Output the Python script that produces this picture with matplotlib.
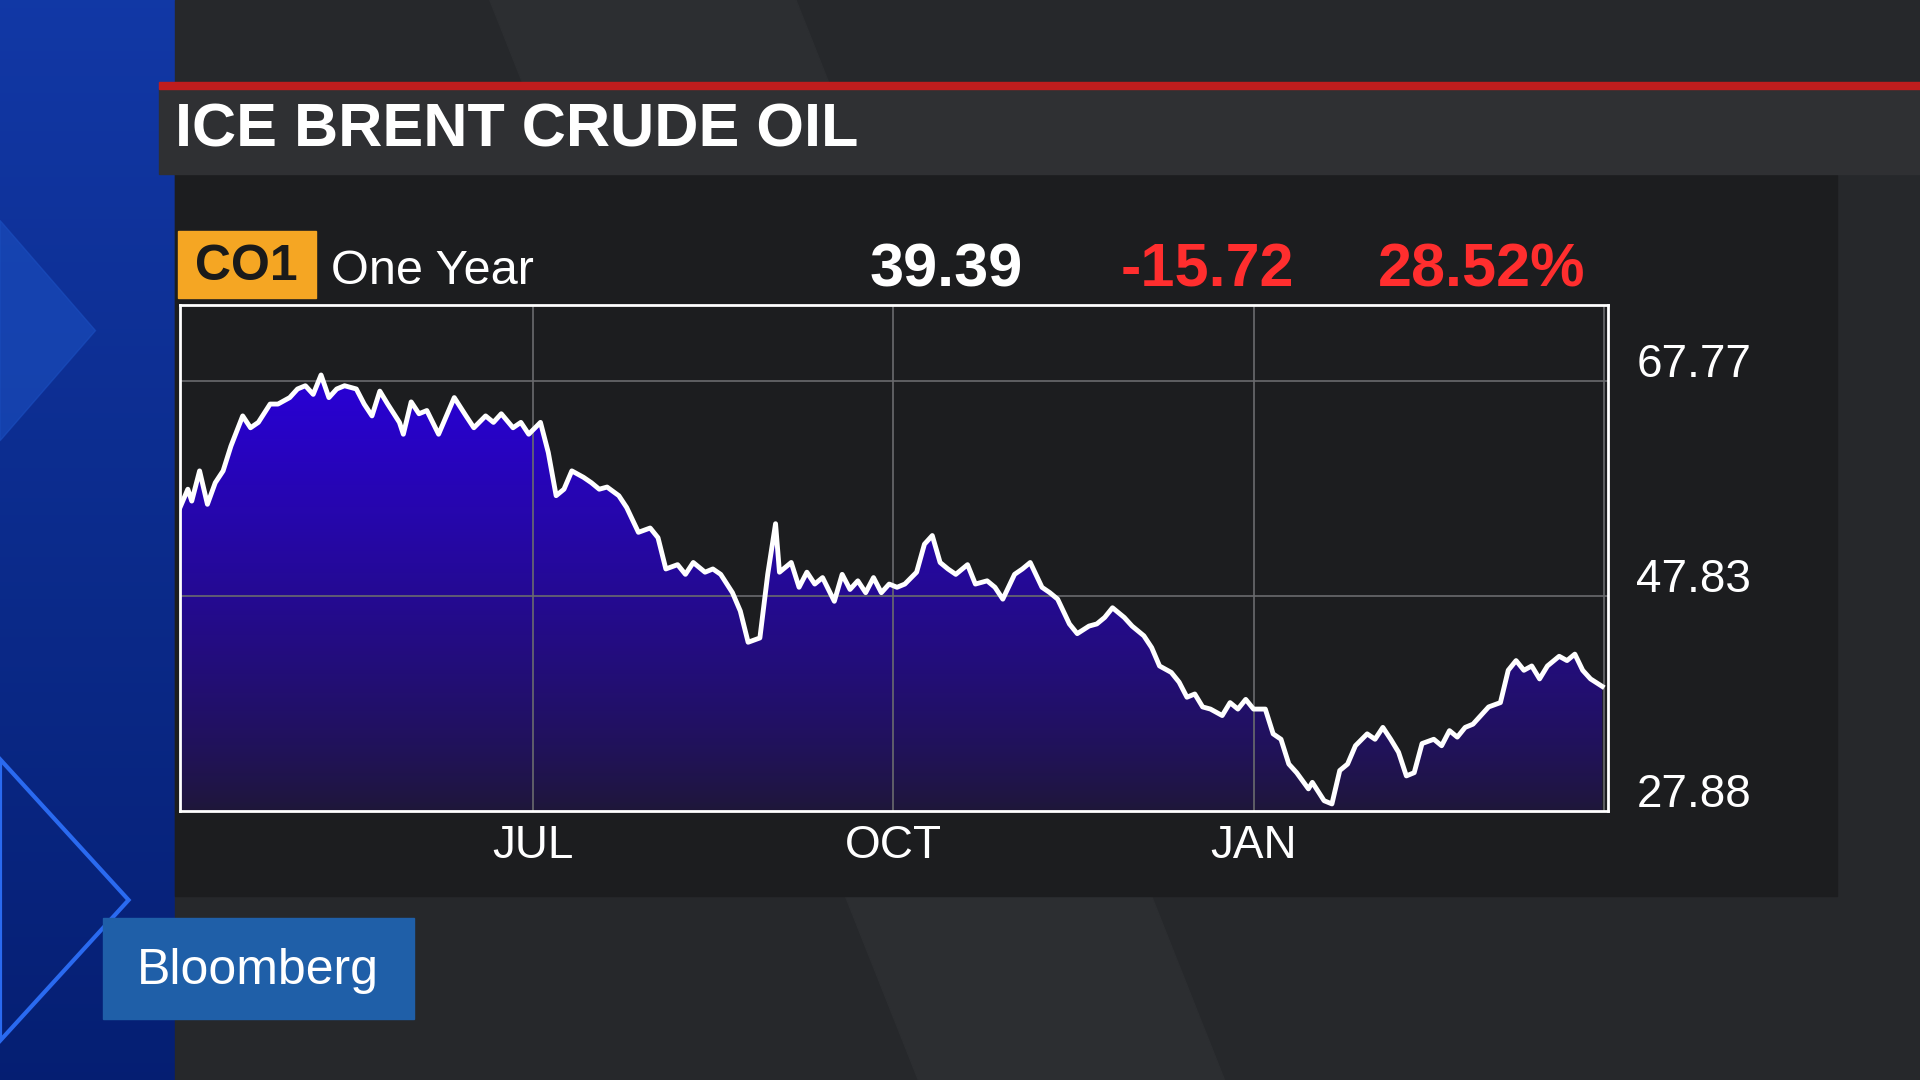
import numpy as np
import matplotlib
matplotlib.use("Agg")
import matplotlib.pyplot as plt
from matplotlib.patches import Rectangle, Polygon
import datetime as dt

start = dt.date(2015, 4, 2)
day_offsets = [0,2,3,5,7,9,11,13,16,18,20,23,25,28,30,32,34,36,38,40,42,45,47,49,51,53,56,57,59,61,63,66,68,70,73,75,78,80,82,85,87,89,92,94,96,98,100,103,105,107,109,112,114,117,120,122,124,127,129,131,134,136,138,141,143,145,148,150,152,153,156,158,160,162,164,167,169,171,173,175,177,179,181,183,185,188,190,192,194,196,198,201,203,206,208,210,213,215,217,220,222,224,227,229,232,234,236,238,241,243,246,248,250,253,255,257,259,261,263,266,268,270,272,274,277,279,281,283,285,288,289,292,294,296,298,300,303,305,307,309,311,313,315,317,320,322,324,326,328,330,332,334,337,339,341,343,345,347,349,352,354,356,358,360,363]
prices = [56.0,57.7,56.6,59.4,56.3,58.3,59.4,61.7,64.5,63.4,63.9,65.6,65.6,66.2,67.0,67.3,66.5,68.3,66.2,67.0,67.3,67.0,65.6,64.5,66.8,65.6,63.9,62.8,65.8,64.7,65.0,62.8,64.5,66.2,64.5,63.4,64.5,63.9,64.7,63.4,63.9,62.8,63.9,61.1,57.1,57.7,59.4,58.8,58.3,57.7,57.9,57.1,56.0,53.7,54.1,53.2,50.3,50.7,49.8,50.9,50.0,50.3,49.8,48.1,46.4,43.5,43.9,49.8,54.5,50.0,50.9,48.6,50.0,48.9,49.5,47.3,49.8,48.4,49.2,48.1,49.5,48.1,48.9,48.6,48.9,50.0,52.6,53.4,50.9,50.3,49.8,50.7,48.9,49.2,48.6,47.5,49.8,50.3,50.9,48.6,48.1,47.5,45.2,44.3,45.0,45.2,45.8,46.7,45.8,45.0,44.1,43.0,41.3,40.7,39.8,38.4,38.7,37.5,37.3,36.7,37.9,37.3,38.2,37.3,37.3,35.0,34.5,32.2,31.4,29.9,30.5,28.8,28.5,31.6,32.2,33.9,35.0,34.5,35.6,34.5,33.3,31.1,31.4,34.1,34.5,33.9,35.3,34.7,35.6,35.9,36.7,37.5,37.9,40.9,41.8,40.9,41.3,40.1,41.3,42.2,41.8,42.4,40.9,40.1,39.4]
ytick_vals = [27.88, 47.83, 67.77]
xtick_labels = ["JUL", "OCT", "JAN"]
xtick_dates = [dt.date(2015, 7, 1), dt.date(2015, 10, 1), dt.date(2016, 1, 1)]
header_vals = ["39.39", "-15.72", "28.52%"]

W, H = 1568, 882
def box(x0, y0, x1, y1):
    return [x0 / W, 1 - y1 / H, (x1 - x0) / W, (y1 - y0) / H]

FONT = "Liberation Sans"
fig = plt.figure(figsize=(19.2, 10.8), dpi=100)
fig.patch.set_facecolor("#202124")
bg = fig.add_axes([0, 0, 1, 1]); bg.set_xlim(0, W); bg.set_ylim(H, 0); bg.axis("off")
grad = np.linspace(0, 1, 256).reshape(-1, 1)
bg.imshow(np.dstack([0.02 + 0.05 * grad[::-1], 0.12 + 0.1 * grad[::-1], 0.45 + 0.2 * grad[::-1]]),
          extent=[0, 143, H, 0], aspect="auto")
bg.add_patch(Polygon([[0, 180], [78, 270], [0, 360]], color="#1b4fc0", alpha=0.6))
bg.add_patch(Polygon([[0, 620], [105, 735], [0, 850]], fill=False, ec="#2a6af0", lw=3))
bg.add_patch(Rectangle((143, 0), W - 143, H, color="#26282b"))
bg.add_patch(Polygon([[400, 0], [650, 0], [1000, 882], [750, 882]], color="#2c2e31"))
bg.add_patch(Rectangle((143, 142), 1357, 590, color="#1c1d1f"))
bg.add_patch(Rectangle((130, 72), W - 130, 70, color="#2f3033"))
bg.add_patch(Rectangle((130, 67), W - 130, 6, color="#c01d1d"))
bg.text(143, 107, "ICE BRENT CRUDE OIL", color="white", fontsize=44, fontweight="bold",
        family=FONT, va="center")
bg.add_patch(Rectangle((145, 189), 113, 54, color="#f5a623"))
bg.text(201, 218, "CO1", color="#1a1a1a", fontsize=36, fontweight="bold", family=FONT,
        ha="center", va="center")
bg.text(270, 222, "One Year", color="white", fontsize=35, family=FONT, va="center")
bg.text(835, 221, header_vals[0], color="white", fontsize=44, fontweight="bold", family=FONT, ha="right", va="center")
bg.text(1057, 221, header_vals[1], color="#ff2e2e", fontsize=44, fontweight="bold", family=FONT, ha="right", va="center")
bg.text(1295, 221, header_vals[2], color="#ff2e2e", fontsize=44, fontweight="bold", family=FONT, ha="right", va="center")
bg.add_patch(Rectangle((84, 750), 254, 82, color="#1f5fa8"))
bg.text(211, 793, "Bloomberg", color="white", fontsize=36, family=FONT, ha="center", va="center")

ax = fig.add_axes(box(147, 249, 1313, 662))
ax.set_facecolor("#1c1d1f")
x = np.array([start + dt.timedelta(days=d) for d in day_offsets])
xn = matplotlib.dates.date2num(x)
y = np.array(prices)
x0 = matplotlib.dates.date2num(start); x1 = x0 + 364.4
ylo, yhi = 27.88, 74.8
ax.set_xlim(x0, x1); ax.set_ylim(ylo, yhi)
gimg = np.linspace(0, 1, 256).reshape(-1, 1)
top = np.array([0.16, 0.0, 0.85]); bot = np.array([0.12, 0.09, 0.22])
img = bot + (top - bot) * gimg[::-1] ** 0.8
im = ax.imshow(img.reshape(256, 1, 3), extent=[x0, x1, ylo, 69], aspect="auto", zorder=1)
poly = Polygon(np.column_stack([np.r_[xn[0], xn, xn[-1]], np.r_[ylo, y, ylo]]), transform=ax.transData)
im.set_clip_path(poly)
for v in ytick_vals[1:]:
    ax.axhline(v, color="#6a6b6e", lw=1.2, zorder=2)
for d in xtick_dates:
    ax.axvline(matplotlib.dates.date2num(d), color="#6a6b6e", lw=1.2, zorder=2)
ax.axvline(xn[-1] + 0.5, color="#6a6b6e", lw=1.2, zorder=2)
ax.plot(xn, y, color="white", lw=3.5, zorder=3)
ax.set_xticks([]); ax.set_yticks([])
for s in ax.spines.values():
    s.set_color("white"); s.set_linewidth(2)
for v in ytick_vals:
    ax.text(1.02, (v - ylo) / (yhi - ylo) + 0.03, f"{v:.2f}", transform=ax.transAxes, color="white",
            fontsize=33, family=FONT, va="center")
for d, lab in zip(xtick_dates, xtick_labels):
    ax.text(matplotlib.dates.date2num(d), -0.07, lab, transform=ax.get_xaxis_transform(),
            color="white", fontsize=33, family=FONT, ha="center", va="center")
fig.savefig("out.png", dpi=100, facecolor=fig.get_facecolor())
